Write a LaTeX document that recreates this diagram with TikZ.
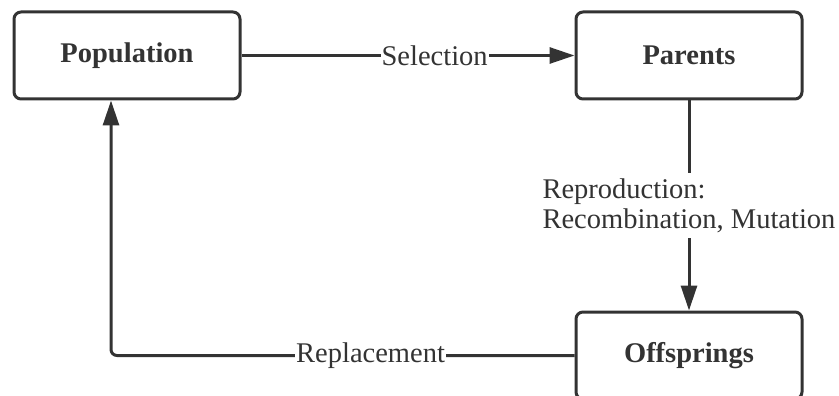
\documentclass[tikz,border=0pt]{standalone}
\usepackage{fontspec}
\setmainfont{Liberation Serif}
\usetikzlibrary{arrows.meta}
\definecolor{linha}{HTML}{333333}

\begin{document}
\begin{tikzpicture}[x=1pt,y=-1pt,
  caixa/.style={draw=linha,line width=3pt,rounded corners=7pt,minimum width=226pt,minimum height=87pt,inner sep=0pt,text=linha,font=\fontsize{28.5}{30}\selectfont\bfseries},
  seta/.style={draw=linha,line width=3pt,-{Triangle[length=25pt,width=16pt]}},
  rotulo/.style={fill=white,text=linha,inner sep=1pt,font=\fontsize{28.5}{30}\selectfont}]

\useasboundingbox (0,0) rectangle (839,396);

% Caixas do ciclo
\node[caixa] (pop) at (127,55.5) {Population};
\node[caixa] (pais) at (689,55.5) {Parents};
\node[caixa] (filhos) at (689,355.5) {Offsprings};

% Ponto de retorno da substituicao
\coordinate (ret) at (111,0);

% Setas entre as caixas
\draw[seta] (pop) -- node[rotulo,pos=0.58] {Selection} (pais);
\draw[seta] (pais) -- node[rotulo,align=left,inner sep=5pt] {Reproduction:\\Recombination, Mutation} (filhos);
\draw[seta,rounded corners=6pt] (filhos.west) -| node[rotulo,pos=0.22] {Replacement} (pop.south -| ret);

\end{tikzpicture}
\end{document}
